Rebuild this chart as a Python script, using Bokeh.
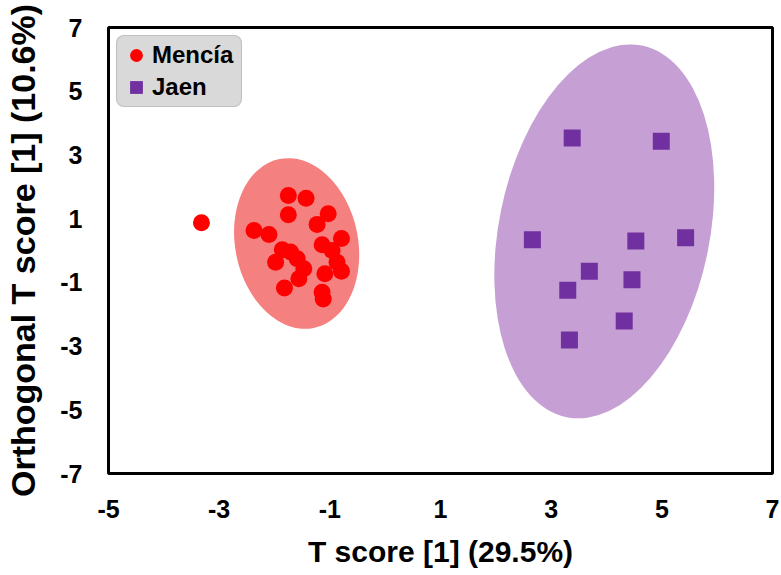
from bokeh.plotting import figure
from bokeh.models import Legend, LegendItem, FixedTicker, Range1d, PrintfTickFormatter
from bokeh.embed import file_html
from bokeh.resources import INLINE

# ---- data ----
mencia_x = [-3.32, -1.75, -1.43, -1.75, -1.03, -1.23, -2.37, -2.10, -0.79, -1.86,
            -1.71, -1.14, -0.96, -1.98, -1.59, -1.47, -1.56, -1.09, -0.87, -0.79,
            -1.82, -1.14, -1.12]
mencia_y = [0.87, 1.73, 1.64, 1.12, 1.15, 0.82, 0.63, 0.50, 0.38, 0.02,
            -0.05, 0.18, 0.00, -0.37, -0.26, -0.57, -0.89, -0.73, -0.37, -0.65,
            -1.18, -1.31, -1.52]
jaen_x = [3.38, 4.99, 2.66, 4.53, 5.43, 3.69, 3.30, 4.46, 4.32, 3.33]
jaen_y = [3.53, 3.43, 0.34, 0.30, 0.40, -0.65, -1.25, -0.92, -2.21, -2.81]

# confidence ellipses: centre x, centre y, width, height, angle (rad)
ell_cx = [-1.60, 3.96]
ell_cy = [0.22, 0.60]
ell_w = [2.22, 3.81]
ell_h = [5.41, 11.90]
ell_angle = [0.20, -0.20]
ell_color = ["#F4807F", "#C6A0D4"]

x_ticks = [-5, -3, -1, 1, 3, 5, 7]
y_ticks = [-7, -5, -3, -1, 1, 3, 5, 7]

FONT = "Liberation Sans"

p = figure(width=781, height=575, output_backend="svg", toolbar_location=None,
           x_range=Range1d(-5, 7), y_range=Range1d(-7, 7),
           min_border_left=108, min_border_top=27, min_border_right=9,
           min_border_bottom=102)

p.xgrid.visible = False
p.ygrid.visible = False
p.outline_line_color = "black"
p.outline_line_width = 3
p.background_fill_color = "white"
p.border_fill_color = "white"

p.ellipse(x=ell_cx, y=ell_cy, width=ell_w, height=ell_h, angle=ell_angle,
          fill_color=ell_color, line_color=None)

r1 = p.scatter(mencia_x, mencia_y, marker="circle", size=17,
               fill_color="#FF0000", line_color=None)
r2 = p.scatter(jaen_x, jaen_y, marker="square", size=17,
               fill_color="#7030A0", line_color=None)

for ax, ticks in ((p.xaxis[0], x_ticks), (p.yaxis[0], y_ticks)):
    ax.ticker = FixedTicker(ticks=ticks)
    ax.formatter = PrintfTickFormatter(format="%d")
    ax.axis_line_color = None
    ax.major_tick_line_color = None
    ax.minor_tick_line_color = None
    ax.major_tick_out = 0
    ax.major_tick_in = 0
    ax.major_label_text_font = FONT
    ax.major_label_text_font_style = "bold"
    ax.major_label_text_font_size = "25px"
    ax.major_label_text_color = "black"
    ax.axis_label_text_font = FONT
    ax.axis_label_text_font_style = "bold"
    ax.axis_label_text_color = "black"

p.xaxis[0].axis_label = "T score [1] (29.5%)"
p.xaxis[0].axis_label_text_font_size = "30px"
p.xaxis[0].major_label_standoff = 26
p.xaxis[0].axis_label_standoff = 14
p.yaxis[0].axis_label = "Orthogonal T score [1] (10.6%)"
p.yaxis[0].axis_label_text_font_size = "34px"
p.yaxis[0].major_label_standoff = 26
p.yaxis[0].axis_label_standoff = 15

legend = Legend(items=[LegendItem(label="Mencía", renderers=[r1]),
                       LegendItem(label="Jaen", renderers=[r2])],
                location="top_left", margin=8, padding=3, spacing=0,
                label_standoff=0, glyph_width=32, glyph_height=32, label_width=86)
legend.label_text_font = FONT
legend.label_text_font_style = "bold"
legend.label_text_font_size = "24px"
legend.label_text_color = "black"
legend.background_fill_color = "#D9D9D9"
legend.background_fill_alpha = 1.0
legend.border_line_color = "#A6A6A6"
legend.border_line_width = 1
if "border_radius" in Legend.properties():
    legend.border_radius = 8
p.add_layout(legend)

open("out.html", "w").write(file_html(p, INLINE))
